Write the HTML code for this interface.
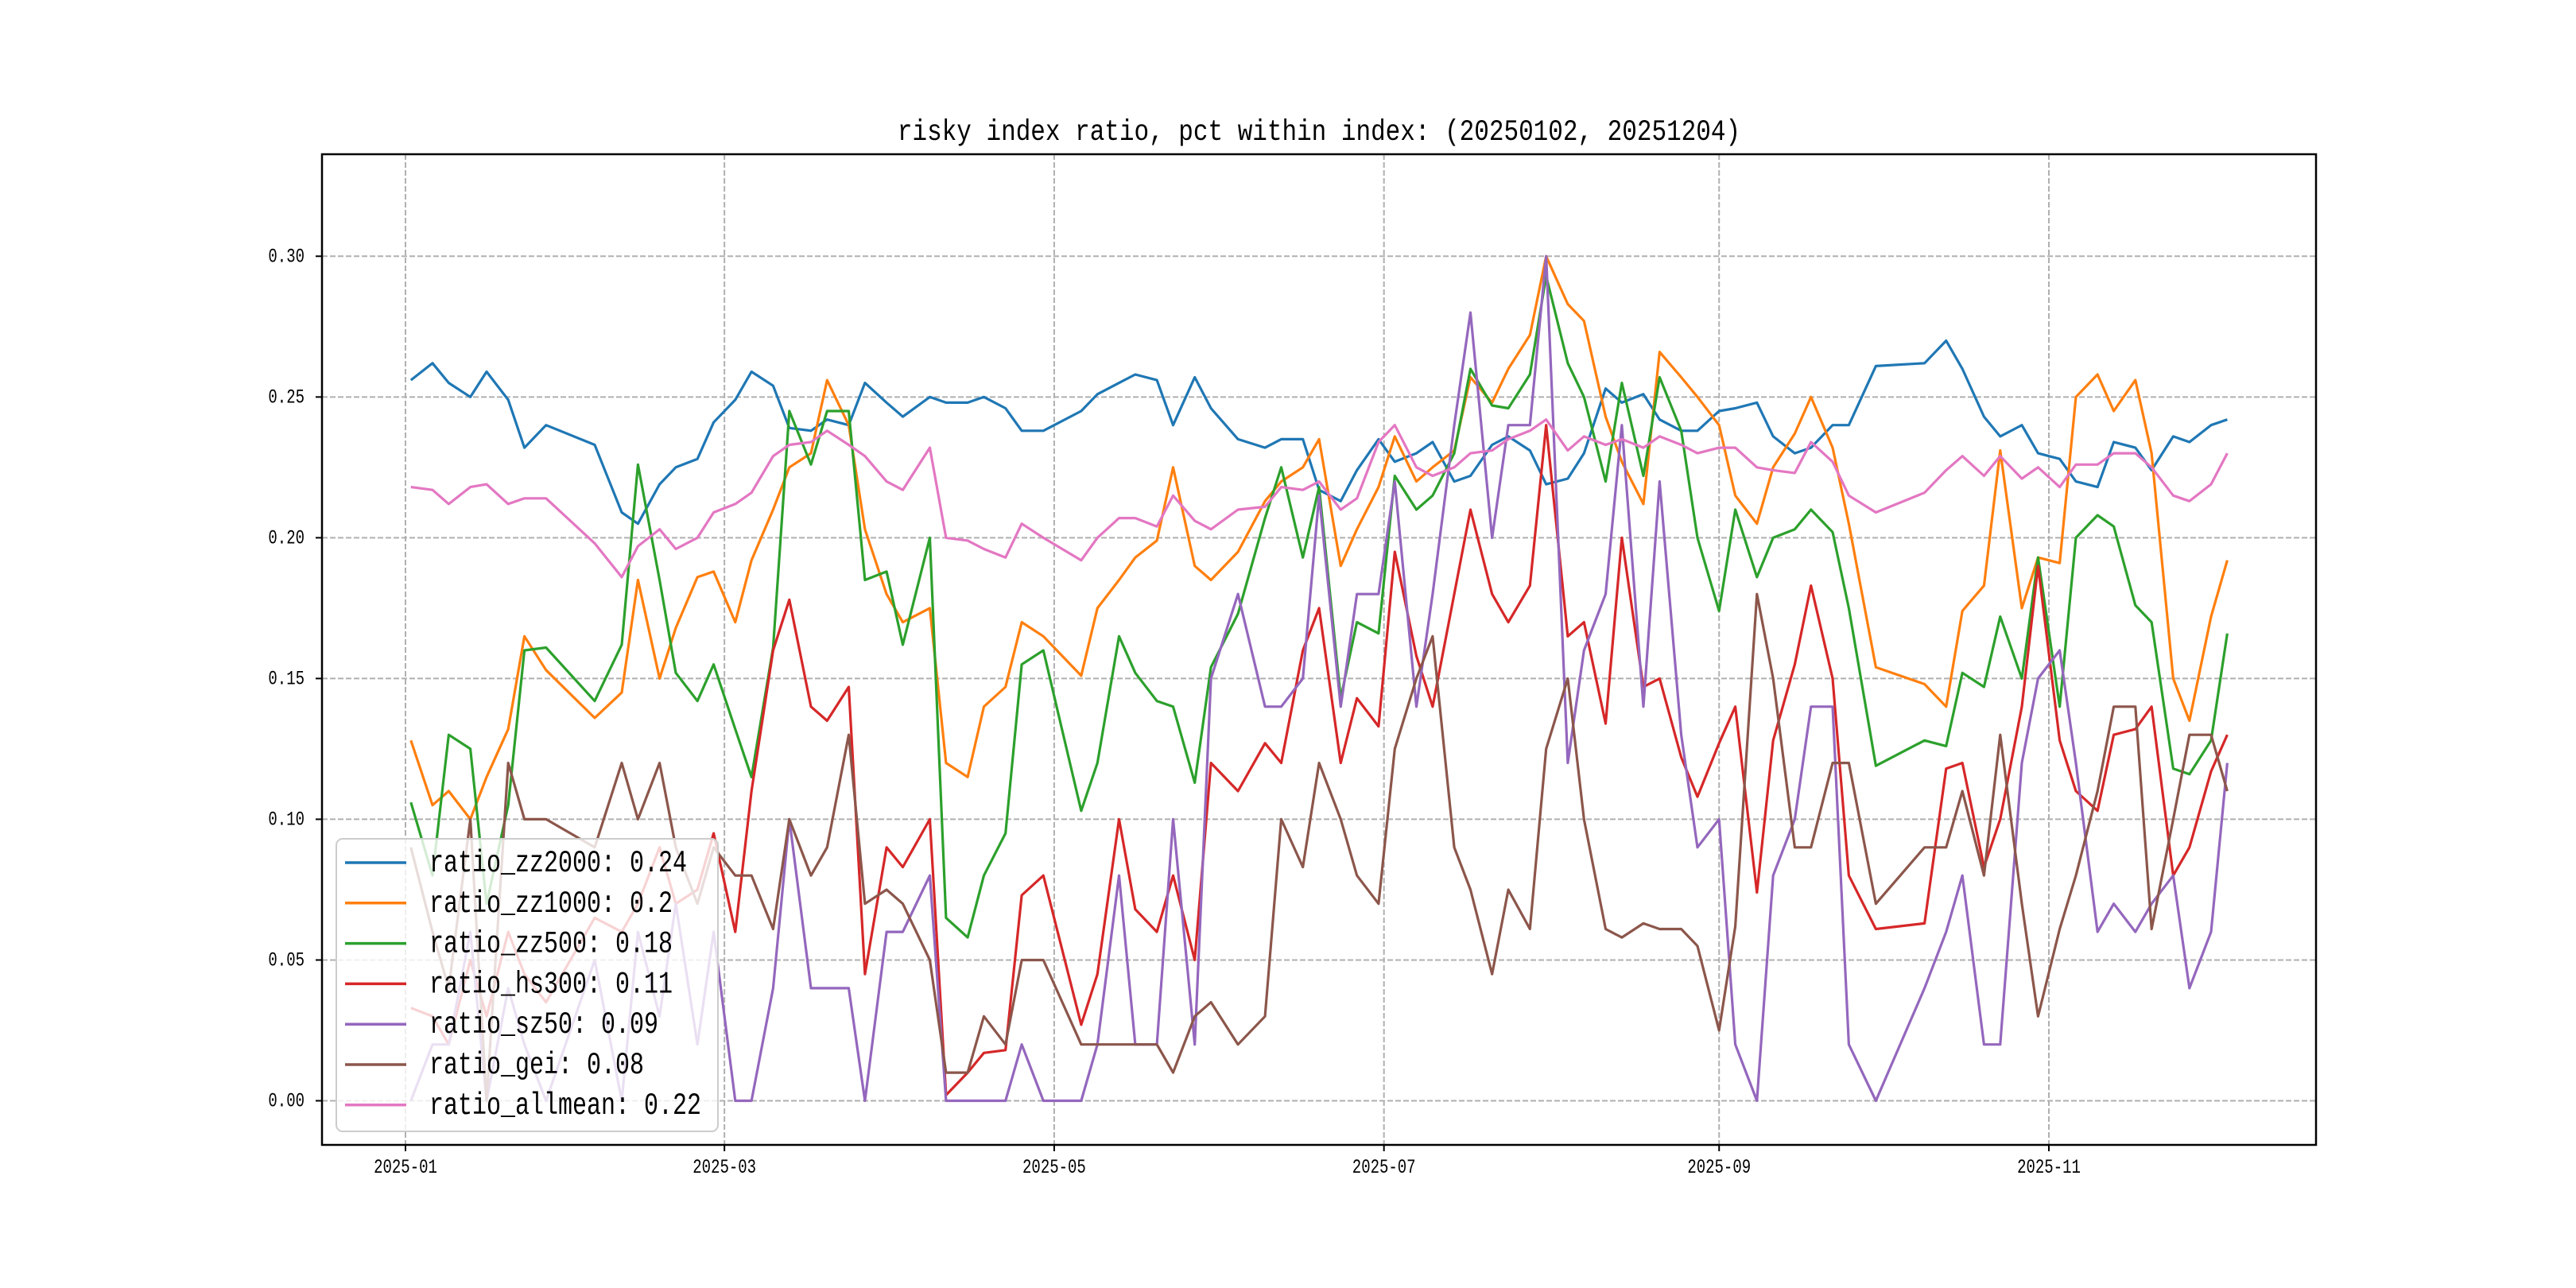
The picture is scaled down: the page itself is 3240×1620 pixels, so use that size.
<!DOCTYPE html>
<html><head><meta charset="utf-8"><style>
html,body{margin:0;padding:0;background:#fff;}
svg{display:block;}
text{font-family:"Liberation Mono","Noto Sans CJK SC",monospace;fill:#000;}
</style></head><body>
<svg id="chart" width="3240" height="1620" viewBox="0 0 3240 1620" xmlns="http://www.w3.org/2000/svg">
<rect x="0" y="0" width="3240" height="1620" fill="#fff"/>
<g id="grid"></g>
<g id="series"></g>
<rect x="405" y="194" width="2508" height="1246" fill="none" stroke="#000" stroke-width="2.5"/>
<g id="ticks"></g>
<text x="1659" y="176" text-anchor="middle" font-size="31" transform="translate(0,176) scale(1,1.2) translate(0,-176)">risky index ratio, pct within index: (20250102, 20251204)</text>
<g id="legend"></g>
</svg>
<script>
const dates = ["01-02","01-06","01-09","01-13","01-16","01-20","01-23","01-27","02-05","02-10","02-13","02-17","02-20","02-24","02-27","03-03","03-06","03-10","03-13","03-17","03-20","03-24","03-27","03-31","04-03","04-08","04-11","04-15","04-18","04-22","04-25","04-29","05-06","05-09","05-13","05-16","05-20","05-23","05-27","05-30","06-04","06-09","06-12","06-16","06-19","06-23","06-26","06-30","07-03","07-07","07-10","07-14","07-17","07-21","07-24","07-28","07-31","08-04","08-07","08-11","08-14","08-18","08-21","08-25","08-28","09-01","09-04","09-08","09-11","09-15","09-18","09-22","09-25","09-30","10-09","10-13","10-16","10-20","10-23","10-27","10-30","11-03","11-06","11-10","11-13","11-17","11-20","11-24","11-27","12-01","12-04"];
const zz2000 = [0.256,0.262,0.255,0.25,0.259,0.249,0.232,0.24,0.233,0.209,0.205,0.219,0.225,0.228,0.241,0.249,0.259,0.254,0.239,0.238,0.242,0.24,0.255,0.248,0.243,0.25,0.248,0.248,0.25,0.246,0.238,0.238,0.245,0.251,0.255,0.258,0.256,0.24,0.257,0.246,0.235,0.232,0.235,0.235,0.217,0.213,0.224,0.235,0.227,0.23,0.234,0.22,0.222,0.233,0.236,0.231,0.219,0.221,0.23,0.253,0.248,0.251,0.242,0.238,0.238,0.245,0.246,0.248,0.236,0.23,0.232,0.24,0.24,0.261,0.262,0.27,0.26,0.243,0.236,0.24,0.23,0.228,0.22,0.218,0.234,0.232,0.224,0.236,0.234,0.24,0.242];
const zz1000 = [0.128,0.105,0.11,0.10,0.115,0.132,0.165,0.153,0.136,0.145,0.185,0.15,0.168,0.186,0.188,0.17,0.192,0.21,0.225,0.23,0.256,0.24,0.203,0.18,0.17,0.175,0.12,0.115,0.14,0.147,0.17,0.165,0.151,0.175,0.185,0.193,0.199,0.225,0.19,0.185,0.195,0.213,0.22,0.225,0.235,0.19,0.203,0.218,0.236,0.22,0.225,0.231,0.257,0.248,0.26,0.272,0.3,0.283,0.277,0.243,0.227,0.212,0.266,0.257,0.25,0.24,0.215,0.205,0.225,0.237,0.25,0.232,0.205,0.154,0.148,0.14,0.174,0.183,0.231,0.175,0.193,0.191,0.25,0.258,0.245,0.256,0.23,0.15,0.135,0.172,0.192];
const zz500 = [0.106,0.08,0.13,0.125,0.07,0.105,0.16,0.161,0.142,0.162,0.226,0.185,0.152,0.142,0.155,0.132,0.115,0.161,0.245,0.226,0.245,0.245,0.185,0.188,0.162,0.2,0.065,0.058,0.08,0.095,0.155,0.16,0.103,0.12,0.165,0.152,0.142,0.14,0.113,0.154,0.173,0.207,0.225,0.193,0.218,0.143,0.17,0.166,0.222,0.21,0.215,0.23,0.26,0.247,0.246,0.258,0.293,0.262,0.25,0.22,0.255,0.222,0.257,0.238,0.2,0.174,0.21,0.186,0.2,0.203,0.21,0.202,0.175,0.119,0.128,0.126,0.152,0.147,0.172,0.15,0.193,0.14,0.2,0.208,0.204,0.176,0.17,0.118,0.116,0.128,0.166];
const hs300 = [0.033,0.03,0.02,0.05,0.03,0.06,0.045,0.035,0.065,0.06,0.07,0.09,0.07,0.075,0.095,0.06,0.11,0.16,0.178,0.14,0.135,0.147,0.045,0.09,0.083,0.1,0.002,0.01,0.017,0.018,0.073,0.08,0.027,0.045,0.1,0.068,0.06,0.08,0.05,0.12,0.11,0.127,0.12,0.16,0.175,0.12,0.143,0.133,0.195,0.158,0.14,0.18,0.21,0.18,0.17,0.183,0.24,0.165,0.17,0.134,0.2,0.147,0.15,0.122,0.108,0.127,0.14,0.074,0.128,0.155,0.183,0.15,0.08,0.061,0.063,0.118,0.12,0.083,0.1,0.14,0.19,0.128,0.11,0.103,0.13,0.132,0.14,0.08,0.09,0.117,0.13];
const sz50 = [0.0,0.02,0.02,0.06,0.0,0.04,0.02,0.0,0.05,0.0,0.06,0.03,0.07,0.02,0.06,0.0,0.0,0.04,0.1,0.04,0.04,0.04,0.0,0.06,0.06,0.08,0.0,0.0,0.0,0.0,0.02,0.0,0.0,0.02,0.08,0.02,0.02,0.1,0.02,0.15,0.18,0.14,0.14,0.15,0.215,0.14,0.18,0.18,0.22,0.14,0.18,0.24,0.28,0.2,0.24,0.24,0.3,0.12,0.16,0.18,0.24,0.14,0.22,0.13,0.09,0.1,0.02,0.0,0.08,0.1,0.14,0.14,0.02,0.0,0.04,0.06,0.08,0.02,0.02,0.12,0.15,0.16,0.12,0.06,0.07,0.06,0.07,0.08,0.04,0.06,0.12];
const gei = [0.09,0.06,0.04,0.1,0.0,0.12,0.1,0.1,0.09,0.12,0.1,0.12,0.09,0.07,0.09,0.08,0.08,0.061,0.1,0.08,0.09,0.13,0.07,0.075,0.07,0.05,0.01,0.01,0.03,0.02,0.05,0.05,0.02,0.02,0.02,0.02,0.02,0.01,0.03,0.035,0.02,0.03,0.1,0.083,0.12,0.1,0.08,0.07,0.125,0.15,0.165,0.09,0.075,0.045,0.075,0.061,0.125,0.15,0.1,0.061,0.058,0.063,0.061,0.061,0.055,0.025,0.062,0.18,0.15,0.09,0.09,0.12,0.12,0.07,0.09,0.09,0.11,0.08,0.13,0.07,0.03,0.061,0.08,0.11,0.14,0.14,0.061,0.1,0.13,0.13,0.11];
const allmean = [0.218,0.217,0.212,0.218,0.219,0.212,0.214,0.214,0.198,0.186,0.197,0.203,0.196,0.2,0.209,0.212,0.216,0.229,0.233,0.234,0.238,0.233,0.229,0.22,0.217,0.232,0.2,0.199,0.196,0.193,0.205,0.2,0.192,0.2,0.207,0.207,0.204,0.215,0.206,0.203,0.21,0.211,0.218,0.217,0.22,0.21,0.214,0.234,0.24,0.225,0.222,0.225,0.23,0.231,0.235,0.238,0.242,0.231,0.236,0.233,0.235,0.232,0.236,0.233,0.23,0.232,0.232,0.225,0.224,0.223,0.234,0.227,0.215,0.209,0.216,0.224,0.229,0.222,0.229,0.221,0.225,0.218,0.226,0.226,0.23,0.23,0.225,0.215,0.213,0.219,0.23];
const seriesNames = ["ratio_zz2000","ratio_zz1000","ratio_zz500","ratio_hs300","ratio_sz50","ratio_gei","ratio_allmean"];
const legendValues = ["0.24","0.2","0.18","0.11","0.09","0.08","0.22"];
const yTicks = [0.00,0.05,0.10,0.15,0.20,0.25,0.30];
const xTicks = ["2025-01-01","2025-03-01","2025-05-01","2025-07-01","2025-09-01","2025-11-01"];

const NS = "http://www.w3.org/2000/svg";
const colors = ["#1f77b4","#ff7f0e","#2ca02c","#d62728","#9467bd","#8c564b","#e377c2"];
const allSeries = [zz2000,zz1000,zz500,hs300,sz50,gei,allmean];
const L=405,R=2913,T=194,B=1440;
const day0 = Date.UTC(2025,0,1);
function dayOf(s){const p=s.split("-").map(Number);return (Date.UTC(p[0],p[1]-1,p[2])-day0)/86400000;}
function xScale(d){return 510 + d*(2577-510)/304;}
function yScale(v){return 1384.5 - v*(1384.5-322.3)/0.30;}
function mk(tag,attrs,parent){const e=document.createElementNS(NS,tag);for(const k in attrs)e.setAttribute(k,attrs[k]);parent.appendChild(e);return e;}
const grid=document.getElementById("grid"),ticks=document.getElementById("ticks"),ser=document.getElementById("series"),leg=document.getElementById("legend");
yTicks.forEach(v=>{
  const y=yScale(v);
  const g=mk("line",{x1:L,x2:R,y1:y,y2:y,stroke:"#b0b0b0","stroke-width":2,"stroke-dasharray":"7,3"},grid);
  
  
  const t=mk("line",{x1:L-8,x2:L,y1:y,y2:y,stroke:"#000","stroke-width":2},ticks);
  
  
  const tx=mk("text",{x:383,y:y+7,"text-anchor":"end","font-size":19,transform:`translate(0,${y+7}) scale(1,1.3) translate(0,${-(y+7)})`},ticks);
  tx.textContent=v.toFixed(2);
  
  
});
xTicks.forEach(s=>{
  const x=xScale(dayOf(s));
  const g=mk("line",{x1:x,x2:x,y1:T,y2:B,stroke:"#b0b0b0","stroke-width":2,"stroke-dasharray":"7,3"},grid);
  
  
  const t=mk("line",{x1:x,x2:x,y1:B,y2:B+8,stroke:"#000","stroke-width":2},ticks);
  
  
  const tx=mk("text",{x:x,y:1475,"text-anchor":"middle","font-size":19,transform:`translate(0,1475) scale(1,1.3) translate(0,-1475)`},ticks);
  tx.textContent=s.slice(0,7);
  
  
});
allSeries.forEach((vals,i)=>{
  const pts=vals.map((v,j)=>xScale(dayOf("2025-"+dates[j])).toFixed(1)+","+yScale(v).toFixed(1)).join(" ");
  const p=mk("polyline",{points:pts,fill:"none",stroke:colors[i],"stroke-width":3.2,"stroke-linejoin":"round"},ser);
  
  
});
const box=mk("rect",{x:423,y:1055,width:480,height:368,rx:8,fill:"#fff","fill-opacity":0.8,stroke:"#cccccc","stroke-width":2},leg);


seriesNames.forEach((n,i)=>{
  const y=1085+i*50.8;
  const ln=mk("line",{x1:434,x2:511,y1:y,y2:y,stroke:colors[i],"stroke-width":3.5},leg);
  
  
  const tx=mk("text",{x:540,y:y+11,"font-size":30,transform:`translate(0,${y+11}) scale(1,1.3) translate(0,${-(y+11)})`},leg);
  tx.textContent=n+": "+legendValues[i];
  
  
});
</script>
</body></html>
